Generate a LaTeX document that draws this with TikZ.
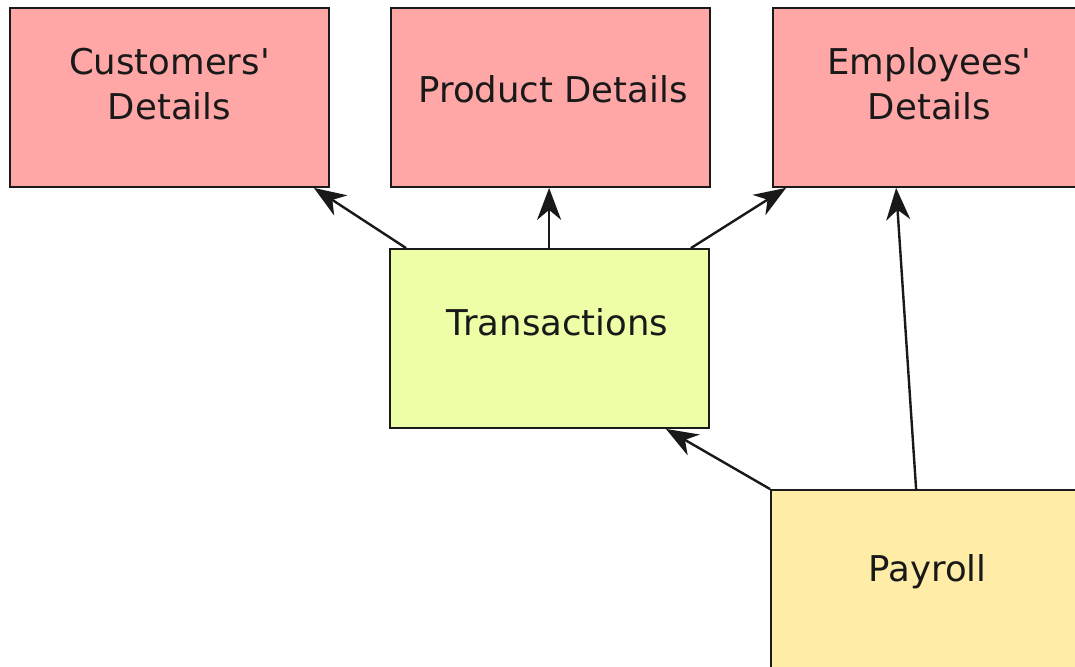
\documentclass[tikz,border=0pt]{standalone}
\usepackage{fontspec}
\setmainfont{DejaVu Sans}
\usetikzlibrary{arrows.meta}
\definecolor{pinkc}{HTML}{FFA6A6}
\definecolor{greenc}{HTML}{ECFFA6}
\definecolor{yellowc}{HTML}{FFECA6}
\definecolor{edgec}{HTML}{1A1A1A}
\newcommand{\apos}{\textquotesingle}
\newcommand{\upby}[2]{\raisebox{0pt}[\height][\dimexpr\depth+#1*2\relax]{#2}}
\begin{document}
\begin{tikzpicture}[x=1pt,y=-1pt,
  box/.style={draw=edgec, line width=1.8pt, minimum width=319pt, minimum height=179pt,
    inner sep=0pt, align=center, font=\fontsize{35.5}{45}\selectfont, text=black!90},
  conn/.style={draw=black!90, line width=2.4pt, -{Stealth[length=32pt,width=24pt,inset=10pt]}}]
\useasboundingbox (0,0) rectangle (1075,666);
\clip (0,0) rectangle (1075,666);
\fill[white] (0,0) rectangle (1075,666);
\node[box, fill=pinkc] (cust) at (169.5,97.5) {\upby{9pt}{\begin{tabular}{@{}c@{}}Customers\apos\\Details\end{tabular}}};
\node[box, fill=pinkc] (prod) at (550.5,97.5) {\hspace{5pt}\upby{8pt}{Product Details}};
\node[box, fill=pinkc] (emp) at (932.5,97.5) {\hspace{-6pt}\upby{9pt}{\begin{tabular}{@{}c@{}}Employees\apos\\Details\end{tabular}}};
\node[box, fill=greenc] (trans) at (549.5,338.5) {\hspace{16pt}\upby{16pt}{Transactions}};
\node[box, fill=yellowc] (pay) at (930.5,579.5) {\hspace{-6pt}\upby{8pt}{Payroll}};
\draw[conn] ([xshift=17pt]trans.north west) -- ([xshift=-16pt]cust.south east);
\draw[conn] ([xshift=160pt]trans.north west) -- ([xshift=159pt]prod.south west);
\draw[conn] ([xshift=-19pt]trans.north east) -- ([xshift=14pt]emp.south west);
\draw[conn] ([xshift=146pt]pay.north west) -- ([xshift=124pt]emp.south west);
\draw[conn] (pay.north west) -- ([xshift=-44pt]trans.south east);
\end{tikzpicture}
\end{document}
